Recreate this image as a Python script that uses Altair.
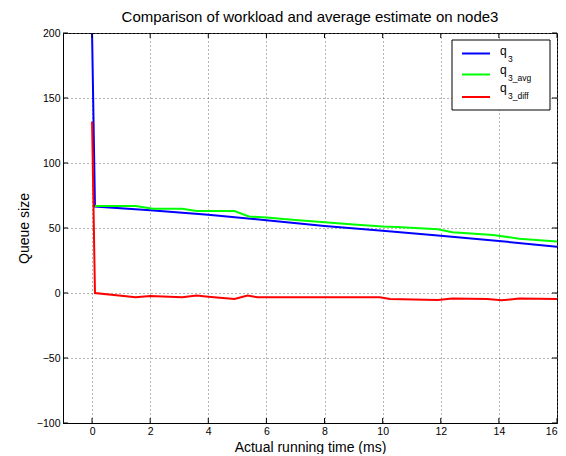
import altair as alt
import pandas as pd

# ---- data ----
x_q3 = [0, 0.1, 2, 4, 6, 8, 10, 12, 14, 16]
y_q3 = [200, 66.5, 63.7, 60.2, 56, 51.5, 47.8, 44, 40, 35.5]

x_avg = [0.1, 1.5, 2.1, 3.1, 3.6, 4.9, 5.4, 6, 7, 8, 9, 10, 10.5, 11.9, 12.4, 13.8, 14.7, 16]
y_avg = [67, 67, 64.8, 64.8, 63, 63, 58.8, 58, 56.2, 54.5, 52.7, 51.2, 50.8, 49, 46.8, 44.6, 41.8, 39.7]

x_diff = [0, 0.1, 1.5, 2, 3.1, 3.6, 4, 4.9, 5.35, 5.7, 9.9, 10.25, 11.9, 12.4, 13.6, 14.1, 14.7, 16]
y_diff = [132, 0, -3.3, -2.3, -3.3, -2, -2.8, -4.6, -2, -3.3, -3.3, -4.6, -5.4, -4.2, -4.6, -5.6, -4.2, -4.6]

series = ["q3", "q3_avg", "q3_diff"]
legend_main = ["q", "q", "q"]
legend_sub = ["3", "3_avg", "3_diff"]
colors = ["#0000ff", "#00ff00", "#ff0000"]

x_ticks = [0, 2, 4, 6, 8, 10, 12, 14, 16]
y_ticks = [-100, -50, 0, 50, 100, 150, 200]
x_domain = [-1, 16]
y_domain = [-100, 200]

# ---- build table ----
rows = []
for name, xs, ys in zip(series, [x_q3, x_avg, x_diff], [y_q3, y_avg, y_diff]):
    for i, (a, b) in enumerate(zip(xs, ys)):
        rows.append({"t": a, "v": b, "series": name, "i": i})
df = pd.DataFrame(rows)

W, H = 494, 390
FONT = "Liberation Sans"

xenc = alt.X(
    "t:Q",
    scale=alt.Scale(domain=x_domain, nice=False, zero=False),
    axis=alt.Axis(
        values=x_ticks, grid=True, gridDash=[1, 3], gridColor="#666", gridWidth=1,
        ticks=False, domainColor="black", labelFont=FONT, labelFontSize=10.5,
        labelColor="black", labelPadding=3.5, title="Actual running time (ms)",
        titleFont=FONT, titleFontSize=14, titleFontWeight="normal", titleColor="black",
        titlePadding=3,
    ),
)
yenc = alt.Y(
    "v:Q",
    scale=alt.Scale(domain=y_domain, nice=False, zero=False),
    axis=alt.Axis(
        values=y_ticks, grid=True, gridDash=[1, 3], gridColor="#666", gridWidth=1,
        ticks=False, domainColor="black", labelFont=FONT, labelFontSize=10.5,
        labelColor="black", labelPadding=3, title="Queue size",
        titleFont=FONT, titleFontSize=14, titleFontWeight="normal", titleColor="black",
        titlePadding=5,
    ),
)

lines = alt.Chart(df).mark_line(strokeWidth=2, clip=True).encode(
    x=xenc, y=yenc,
    color=alt.Color("series:N", scale=alt.Scale(domain=series, range=colors), legend=None),
    order="i:Q",
)

# inward ticks on all four sides (MATLAB style)
xt = pd.DataFrame({"t": x_ticks})
yt = pd.DataFrame({"v": y_ticks})
tick_layers = [
    alt.Chart(xt).mark_rule(color="black").encode(x=xenc, y=alt.value(H), y2=alt.value(H - 5)),
    alt.Chart(xt).mark_rule(color="black").encode(x=xenc, y=alt.value(0), y2=alt.value(5)),
    alt.Chart(yt).mark_rule(color="black").encode(y=yenc, x=alt.value(0), x2=alt.value(5)),
    alt.Chart(yt).mark_rule(color="black").encode(y=yenc, x=alt.value(W), x2=alt.value(W - 5)),
]

# manual legend box with subscripted labels
leg = pd.DataFrame({"series": series, "main": legend_main, "sub": legend_sub})
box = alt.Chart(leg.iloc[[0]]).mark_rect(fill="white", stroke="black", strokeWidth=1).encode(
    x=alt.value(389), x2=alt.value(487), y=alt.value(7), y2=alt.value(77)
)
legend_layers = [box]
line_y = [20.5, 41.5, 64]
q_base = [22, 40.5, 58.5]
sub_base = [28.5, 47.5, 65.5]
for k in range(3):
    d = leg.iloc[[k]]
    legend_layers.append(
        alt.Chart(d).mark_rule(color=colors[k], strokeWidth=2).encode(
            x=alt.value(399), x2=alt.value(427), y=alt.value(line_y[k])
        )
    )
    legend_layers.append(
        alt.Chart(d).mark_text(align="left", baseline="alphabetic", font=FONT, fontSize=12, color="black").encode(
            x=alt.value(437), y=alt.value(q_base[k]), text="main:N"
        )
    )
    legend_layers.append(
        alt.Chart(d).mark_text(align="left", baseline="alphabetic", font=FONT, fontSize=8.5, color="black").encode(
            x=alt.value(445), y=alt.value(sub_base[k]), text="sub:N"
        )
    )

chart = alt.layer(lines, *tick_layers, *legend_layers).properties(
    width=W, height=H,
    title=alt.TitleParams(
        "Comparison of workload and average estimate on node3",
        font=FONT, fontSize=15, fontWeight="normal", color="black", anchor="middle", offset=3,
    ),
    padding={"left": 9, "top": 2, "right": 0, "bottom": 0},
).configure_view(stroke="black", strokeWidth=1)

chart.save("out.html", embed_options={"renderer": "svg", "actions": False})
